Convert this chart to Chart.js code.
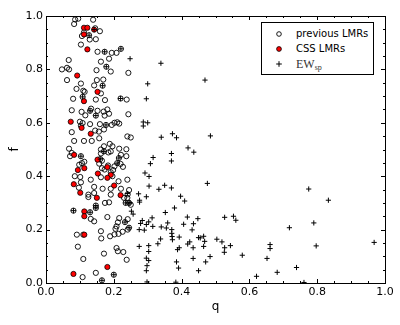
<!DOCTYPE html>
<html>
<head>
<meta charset="utf-8">
<script src="https://cdn.jsdelivr.net/npm/chart.js@4.4.1/dist/chart.umd.min.js"></script>
<style>
  html, body { margin: 0; padding: 0; background: #fff; }
  #wrap { position: relative; width: 400px; height: 325px; }
  #legend {
    position: absolute; left: 261px; top: 22px; width: 111px; height: 51px;
    border: 1px solid #000; background: #fff;
    font-family: "DejaVu Sans", sans-serif; font-size: 10px; color: #000;
  }
  .row { position: absolute; left: 0; width: 100%; height: 14px; line-height: 14px; }
  .row svg { position: absolute; left: 13px; top: 3px; }
  .row .lbl { position: absolute; left: 34px; top: 0; white-space: nowrap; }
  .ew { font-family: "Liberation Serif", serif; font-size: 12px; color: #333; }
  .ew sub { font-size: 8px; vertical-align: -2px; line-height: 0; }
</style>
</head>
<body>
<div id="wrap">
  <canvas id="chart" width="400" height="325"></canvas>
  <div id="legend">
    <div class="row" style="top:4px">
      <svg width="8" height="8"><circle cx="4" cy="4" r="2.3" fill="none" stroke="#000" stroke-width="0.9"/></svg>
      <span class="lbl">previous LMRs</span>
    </div>
    <div class="row" style="top:19px">
      <svg width="8" height="8"><circle cx="4" cy="4" r="2.4" fill="#ff0000" stroke="#000" stroke-width="0.8"/></svg>
      <span class="lbl">CSS LMRs</span>
    </div>
    <div class="row" style="top:34px">
      <svg width="8" height="8"><path d="M4 1.2V6.8M1.2 4H6.8" stroke="#000" stroke-width="1"/></svg>
      <span class="lbl ew">EW<sub>sp</sub></span>
    </div>
  </div>
</div>
<script>
// ---- data: [q, f] ----
const previousLMRs = [
  [0.086,0.987],[0.095,0.990],[0.083,0.970],[0.139,0.986],[0.145,0.954],[0.159,0.943],[0.112,0.939],
  [0.127,0.928],[0.106,0.925],[0.129,0.912],[0.147,0.913],[0.103,0.893],[0.152,0.866],[0.173,0.866],
  [0.194,0.862],[0.208,0.862],[0.221,0.877],[0.186,0.840],[0.162,0.829],[0.067,0.835],[0.047,0.800],
  [0.062,0.806],[0.068,0.800],[0.149,0.797],[0.178,0.810],[0.191,0.792],[0.243,0.787],[0.062,0.760],
  [0.103,0.747],[0.150,0.760],[0.169,0.762],[0.142,0.740],[0.167,0.739],[0.110,0.720],[0.114,0.716],
  [0.090,0.727],[0.162,0.710],[0.220,0.691],[0.238,0.687],[0.080,0.690],[0.108,0.697],[0.174,0.685],
  [0.133,0.653],[0.147,0.687],
  [0.076,0.647],[0.105,0.641],[0.130,0.645],[0.116,0.628],[0.147,0.627],[0.152,0.645],[0.170,0.642],
  [0.173,0.627],[0.181,0.650],[0.186,0.634],[0.243,0.632],[0.100,0.604],[0.108,0.599],[0.103,0.589],
  [0.130,0.595],[0.159,0.595],[0.177,0.592],[0.194,0.592],[0.202,0.600],[0.210,0.602],[0.216,0.597],
  [0.171,0.575],[0.145,0.571],[0.156,0.567],[0.076,0.565],[0.240,0.549],[0.250,0.545],[0.083,0.532],
  [0.112,0.532],[0.135,0.532],[0.157,0.542],[0.171,0.512],[0.188,0.521],[0.196,0.512],[0.216,0.503],
  [0.237,0.501],[0.068,0.503],[0.076,0.487],[0.071,0.475],[0.103,0.475],[0.162,0.500],[0.162,0.485],
  [0.171,0.493],[0.184,0.489],[0.191,0.493],[0.221,0.480],[0.237,0.475],[0.215,0.468],[0.160,0.464],
  [0.165,0.458],[0.106,0.449],[0.113,0.454],[0.098,0.443],[0.157,0.447],[0.183,0.440],[0.210,0.449],
  [0.220,0.446],[0.202,0.437],[0.165,0.430],[0.173,0.425],[0.191,0.415],[0.198,0.423],[0.227,0.435],
  [0.196,0.400],[0.085,0.400],[0.101,0.397],[0.103,0.377],[0.132,0.387],[0.162,0.396],[0.214,0.381],
  [0.240,0.387],[0.097,0.357],[0.142,0.360],[0.167,0.353],[0.191,0.353],[0.221,0.353],[0.245,0.348],
  [0.125,0.331],
  [0.125,0.322],[0.142,0.337],[0.191,0.331],[0.230,0.319],[0.241,0.332],[0.240,0.319],[0.235,0.300],
  [0.245,0.300],[0.250,0.293],[0.174,0.300],[0.186,0.302],[0.147,0.290],[0.147,0.281],[0.081,0.271],
  [0.130,0.265],[0.132,0.240],[0.142,0.231],[0.181,0.247],[0.216,0.243],[0.212,0.227],[0.208,0.212],
  [0.233,0.228],[0.241,0.239],[0.245,0.207],[0.241,0.200],[0.205,0.203],[0.214,0.184],[0.202,0.182],
  [0.226,0.192],[0.091,0.181],[0.110,0.181],[0.162,0.194],[0.163,0.167],[0.189,0.175],[0.094,0.136],
  [0.208,0.131],[0.212,0.119],[0.228,0.116],[0.238,0.087],[0.171,0.110],[0.110,0.090],[0.147,0.038],
  [0.108,0.022],[0.165,0.010],[0.200,0.031]
];

const cssLMRs = [
  [0.112,0.956],[0.122,0.956],[0.142,0.949],[0.112,0.931],[0.122,0.875],[0.092,0.777],[0.152,0.716],
  [0.112,0.681],[0.073,0.604],[0.105,0.581],[0.132,0.559],[0.083,0.480],[0.152,0.462],[0.113,0.430],
  [0.094,0.423],[0.153,0.410],[0.181,0.434],[0.191,0.405],[0.181,0.394],[0.082,0.370],[0.201,0.365],
  [0.101,0.338],[0.150,0.319],[0.220,0.329],[0.113,0.268],[0.113,0.250],[0.113,0.181],[0.181,0.060],
  [0.081,0.034]
];

const ewSp = [
  [0.248,0.840],[0.339,0.823],[0.469,0.760],[0.300,0.746],[0.296,0.690],[0.287,0.603],[0.300,0.600],
  [0.287,0.588],[0.485,0.551],[0.373,0.559],[0.385,0.544],[0.340,0.546],[0.419,0.506],[0.436,0.490],
  [0.370,0.485],[0.370,0.457],[0.316,0.470],[0.308,0.447],[0.476,0.373],[0.292,0.412],[0.304,0.399],
  [0.304,0.363],[0.350,0.366],[0.333,0.351],[0.370,0.356],[0.397,0.325],[0.409,0.307],[0.379,0.281],
  [0.352,0.264],[0.417,0.247],[0.448,0.241],[0.527,0.246],[0.553,0.250],[0.560,0.235],[0.359,0.225],
  [0.406,0.220],[0.435,0.222],[0.340,0.210],[0.355,0.206],[0.371,0.200],[0.371,0.186],[0.372,0.174],
  [0.373,0.162],[0.431,0.199],[0.338,0.165],[0.393,0.172],[0.450,0.170],[0.455,0.169],[0.468,0.156],
  [0.465,0.175],[0.504,0.164],[0.519,0.154],[0.544,0.140],[0.527,0.132],[0.526,0.115],[0.424,0.154],
  [0.418,0.146],[0.434,0.132],[0.465,0.137],[0.393,0.132],[0.388,0.125],[0.330,0.147],[0.484,0.099],
  [0.434,0.092],[0.471,0.079],[0.385,0.079],[0.391,0.056],[0.450,0.046],[0.579,0.104],[0.621,0.025],
  [0.383,0.003],
  [0.775,0.352],[0.833,0.310],[0.790,0.225],[0.718,0.207],[0.661,0.144],[0.661,0.129],[0.797,0.139],
  [0.968,0.152],[0.652,0.092],[0.739,0.058],[0.682,0.040],[0.761,0.002],
  [0.240,0.335],[0.273,0.334],[0.248,0.300],[0.252,0.269],[0.257,0.258],[0.279,0.223],[0.284,0.234],
  [0.296,0.219],[0.303,0.229],[0.275,0.137],[0.303,0.140],[0.303,0.118],[0.296,0.093],[0.303,0.084],
  [0.298,0.065],[0.296,0.046],[0.298,0.004],[0.276,0.303],[0.276,0.310],[0.296,0.323],[0.275,0.200],
  [0.313,0.244],[0.315,0.212],[0.290,0.198],
  // objects that sit inside an LMR circle (grey-looking dots)
  [0.127,0.928],[0.173,0.866],[0.221,0.877],[0.178,0.810],[0.167,0.739],[0.220,0.691],[0.108,0.697],
  [0.130,0.645],[0.147,0.627],[0.177,0.592],[0.103,0.475],[0.171,0.493],[0.215,0.468],[0.160,0.464],
  [0.210,0.449],[0.235,0.300],[0.245,0.300],[0.147,0.290],[0.147,0.281],[0.081,0.271],[0.130,0.265],
  [0.233,0.228],[0.245,0.207],[0.165,0.010],[0.200,0.031],[0.142,0.949]
];

const axisTicks = [0.0, 0.2, 0.4, 0.6, 0.8, 1.0];
const minorTicks = [0.05, 0.1, 0.15, 0.25, 0.3, 0.35, 0.45, 0.5, 0.55, 0.65, 0.7, 0.75, 0.85, 0.9, 0.95];

const toXY = arr => arr.map(p => ({ x: p[0], y: p[1] }));

// frame + inward tick marks on all four sides (matplotlib classic look)
const frameTicks = {
  id: 'frameTicks',
  afterDatasetsDraw(chart) {
    const { ctx, chartArea: a, scales: { x, y } } = chart;
    ctx.save();
    ctx.strokeStyle = '#000';
    ctx.lineWidth = 1;
    ctx.beginPath();
    const tick = (len, v) => {
      const px = Math.round(x.getPixelForValue(v)) + 0.5;
      const py = Math.round(y.getPixelForValue(v)) + 0.5;
      ctx.moveTo(px, a.bottom); ctx.lineTo(px, a.bottom - len);
      ctx.moveTo(px, a.top); ctx.lineTo(px, a.top + len);
      ctx.moveTo(a.left, py); ctx.lineTo(a.left + len, py);
      ctx.moveTo(a.right, py); ctx.lineTo(a.right - len, py);
    };
    axisTicks.forEach(v => tick(4, v));
    minorTicks.forEach(v => tick(2, v));
    ctx.stroke();
    ctx.strokeRect(Math.round(a.left) + 0.5, Math.round(a.top) + 0.5,
      Math.round(a.right - a.left), Math.round(a.bottom - a.top));
    ctx.restore();
  }
};

const tickFont = { family: 'DejaVu Sans', size: 11 };

new Chart(document.getElementById('chart'), {
  type: 'scatter',
  data: {
    datasets: [
      {
        label: 'previous LMRs',
        data: toXY(previousLMRs),
        pointStyle: 'circle',
        pointRadius: 2.6,
        backgroundColor: 'rgba(0,0,0,0)',
        borderColor: '#000',
        borderWidth: 0.9,
        order: 3,
        clip: 0
      },
      {
        label: 'CSS LMRs',
        data: toXY(cssLMRs),
        pointStyle: 'circle',
        pointRadius: 2.6,
        backgroundColor: '#ff0000',
        borderColor: '#000',
        borderWidth: 0.8,
        order: 2,
        clip: 0
      },
      {
        label: 'EW_sp',
        data: toXY(ewSp),
        pointStyle: 'cross',
        pointRadius: 2.6,
        borderColor: '#000',
        borderWidth: 1,
        order: 1,
        clip: 0
      }
    ]
  },
  options: {
    responsive: false,
    animation: false,
    events: [],
    layout: { padding: { top: 16, right: 15, left: 0, bottom: 0 } },
    plugins: { legend: { display: false }, tooltip: { enabled: false } },
    scales: {
      x: {
        type: 'linear', min: 0, max: 1,
        afterBuildTicks: s => { s.ticks = axisTicks.map(v => ({ value: v })); },
        afterFit: s => { s.height = 42; },
        grid: { display: false, drawTicks: false },
        border: { display: false },
        ticks: { color: '#000', font: tickFont, padding: 3, maxRotation: 0,
                 callback: v => v.toFixed(1) },
        title: { display: true, text: 'q', color: '#000',
                 font: { family: 'DejaVu Sans', size: 12 }, padding: { top: 0, bottom: 11 } }
      },
      y: {
        type: 'linear', min: 0, max: 1,
        afterBuildTicks: s => { s.ticks = axisTicks.map(v => ({ value: v })); },
        afterFit: s => { s.width = 46; },
        grid: { display: false, drawTicks: false },
        border: { display: false },
        ticks: { color: '#000', font: tickFont, padding: 3,
                 callback: v => v.toFixed(1) },
        title: { display: true, text: 'f', color: '#000',
                 font: { family: 'DejaVu Sans', size: 12 }, padding: { top: 8, bottom: 0 } }
      }
    }
  },
  plugins: [frameTicks]
});
</script>
</body>
</html>
